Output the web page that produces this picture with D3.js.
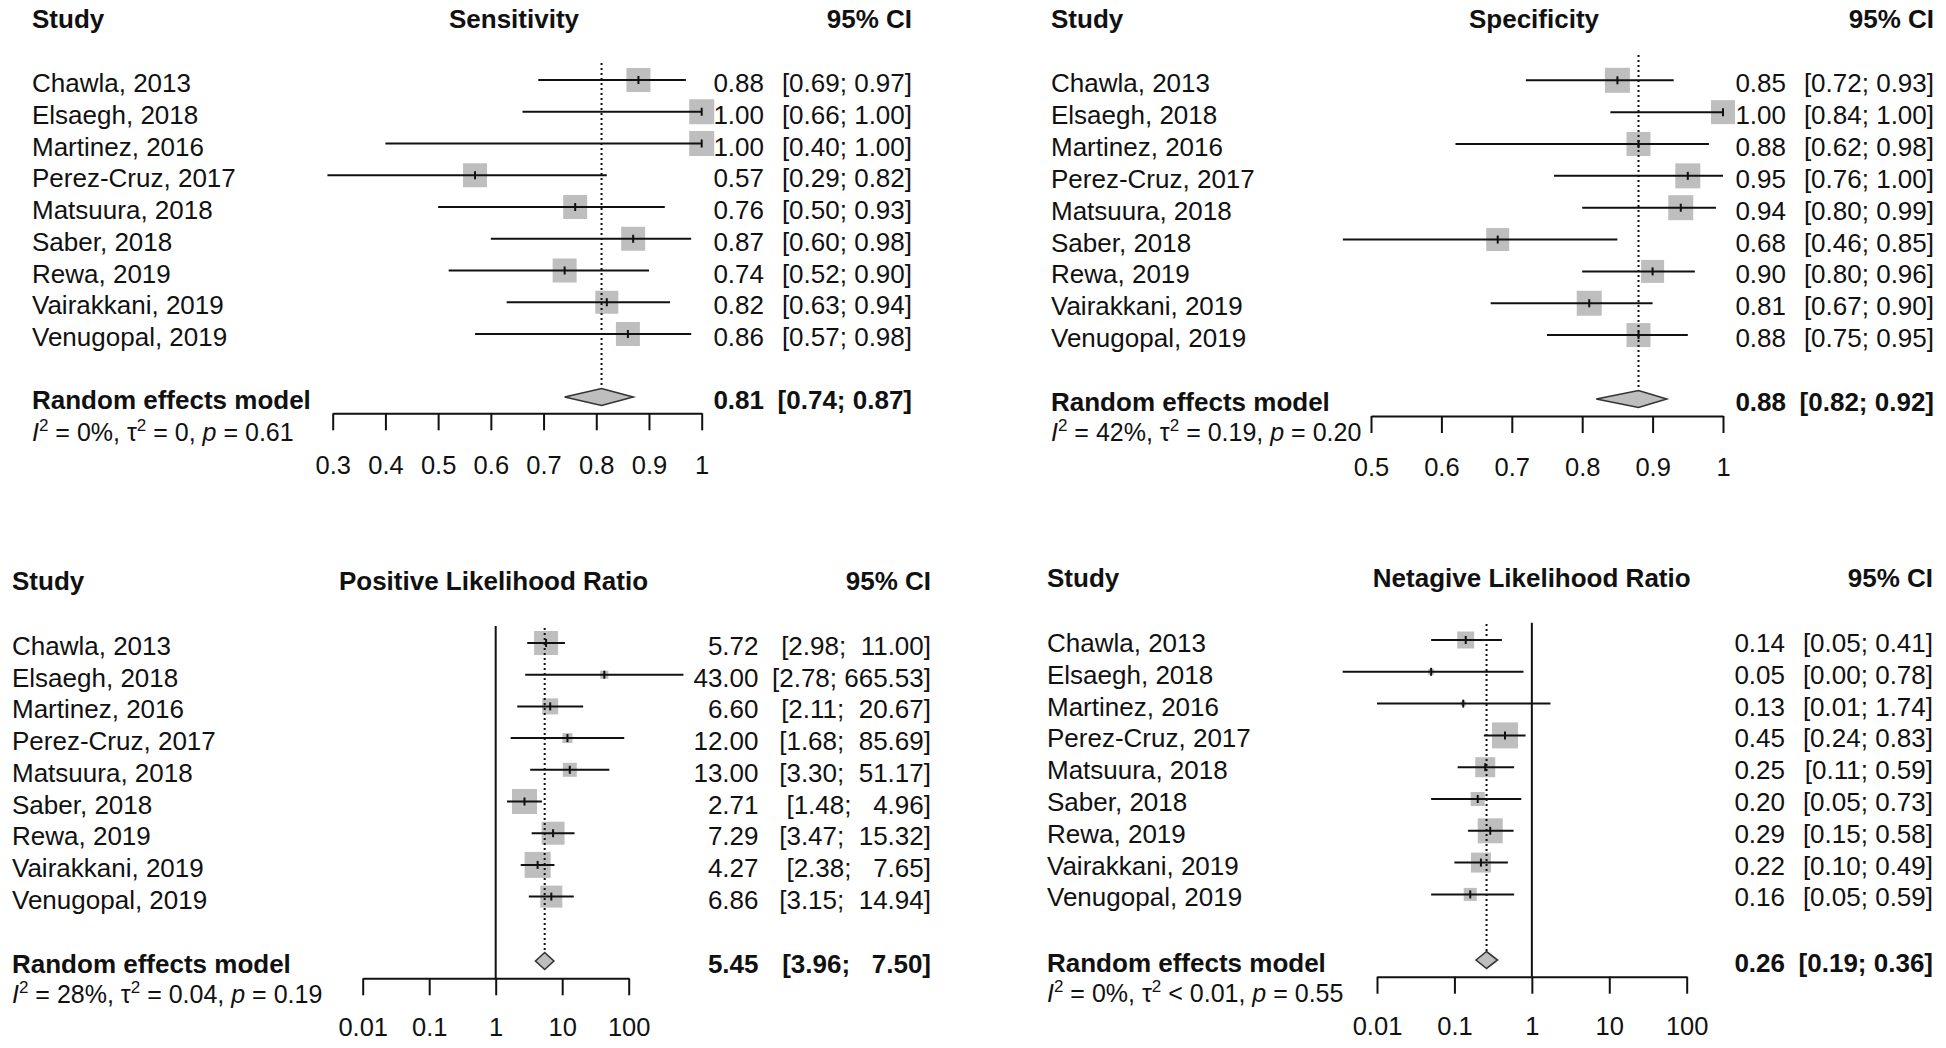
<!DOCTYPE html>
<html><head><meta charset="utf-8">
<script src="https://cdn.jsdelivr.net/npm/d3@7"></script>
<style>
html,body{margin:0;padding:0;background:#fff;}
svg text{font-family:"Liberation Sans",Arial,Helvetica,sans-serif;fill:#111;}
</style></head><body>
<svg id="chart" width="1946" height="1048"></svg>
<script>
// ---------------- data ----------------
const studies = ["Chawla, 2013","Elsaegh, 2018","Martinez, 2016","Perez-Cruz, 2017","Matsuura, 2018","Saber, 2018","Rewa, 2019","Vairakkani, 2019","Venugopal, 2019"];

const sensEst  = [0.88,1.00,1.00,0.57,0.76,0.87,0.74,0.82,0.86];
const sensLow  = [0.69,0.66,0.40,0.29,0.50,0.60,0.52,0.63,0.57];
const sensHigh = [0.97,1.00,1.00,0.82,0.93,0.98,0.90,0.94,0.98];
const sensWeight = [24,25,25,24,24,24,24,23,24];
const sensPooled = [0.81,0.74,0.87];
const sensTicks = [0.3,0.4,0.5,0.6,0.7,0.8,0.9,1];
const sensTickLabels = ["0.3","0.4","0.5","0.6","0.7","0.8","0.9","1"];

const specEst  = [0.85,1.00,0.88,0.95,0.94,0.68,0.90,0.81,0.88];
const specLow  = [0.72,0.84,0.62,0.76,0.80,0.46,0.80,0.67,0.75];
const specHigh = [0.93,1.00,0.98,1.00,0.99,0.85,0.96,0.90,0.95];
const specWeight = [25,24,24,25,25,23,23,25,24];
const specPooled = [0.88,0.82,0.92];
const specTicks = [0.5,0.6,0.7,0.8,0.9,1];
const specTickLabels = ["0.5","0.6","0.7","0.8","0.9","1"];

const plrEst  = [5.72,43.00,6.60,12.00,13.00,2.71,7.29,4.27,6.86];
const plrLow  = [2.98,2.78,2.11,1.68,3.30,1.48,3.47,2.38,3.15];
const plrHigh = [11.00,665.53,20.67,85.69,51.17,4.96,15.32,7.65,14.94];
const plrWeight = [24,8,16,10,14,25,23,26,22];
const plrPooled = [5.45,3.96,7.50];

const nlrEst  = [0.14,0.05,0.13,0.45,0.25,0.20,0.29,0.22,0.16];
const nlrLow  = [0.05,0.0036,0.01,0.24,0.11,0.05,0.15,0.10,0.05];
const nlrHigh = [0.41,0.78,1.74,0.83,0.59,0.73,0.58,0.49,0.59];
const nlrWeight = [17,6,5,26,20,14,25,20,13];
const nlrPooled = [0.26,0.19,0.36];

const lrTicks = [0.01,0.1,1,10,100];
const lrTickLabels = ["0.01","0.1","1","10","100"];

const titles = ["Sensitivity","Specificity","Positive Likelihood Ratio","Netagive Likelihood Ratio"];
const hetI2  = ["0%","42%","28%","0%"];
const hetTau = ["= 0","= 0.19","= 0.04","< 0.01"];
const hetP   = ["0.61","0.20","0.19","0.55"];

// ---------------- layout ----------------
const FS = 26, FS_HET = 25, FS_TICK = 25.5, TXT_OFF = 12;
const panels = [
  {est:sensEst, low:sensLow, high:sensHigh, w:sensWeight, pooled:sensPooled, ticks:sensTicks, tl:sensTickLabels, log:false,
   domain:[0.3,1], range:[332.7,701.7], row0:80, step:31.75, studyX:32, titleX:514, headerY:27.5, ciRight:912, estRight:764,
   diamondY:397, hetY:441, axisY:413.3, labelC:465, dotTop:63, ref:false},
  {est:specEst, low:specLow, high:specHigh, w:specWeight, pooled:specPooled, ticks:specTicks, tl:specTickLabels, log:false,
   domain:[0.5,1], range:[1371,1723], row0:80.3, step:31.85, studyX:1051, titleX:1534, headerY:28.3, ciRight:1934, estRight:1786,
   diamondY:399, hetY:440.5, axisY:416, labelC:466.7, dotTop:55, ref:false},
  {est:plrEst, low:plrLow, high:plrHigh, w:plrWeight, pooled:plrPooled, ticks:lrTicks, tl:lrTickLabels, log:true,
   domain:[0.01,100], range:[362.7,628.7], row0:643, step:31.7, studyX:12, titleX:493.5, headerY:590, ciRight:931, estRight:758.5,
   diamondY:961, hetY:1003, axisY:978.3, labelC:1026.7, dotTop:628, ref:true, refTop:626},
  {est:nlrEst, low:nlrLow, high:nlrHigh, w:nlrWeight, pooled:nlrPooled, ticks:lrTicks, tl:lrTickLabels, log:true,
   domain:[0.01,100], range:[1377,1686.7], row0:640, step:31.8, studyX:1047, titleX:1531.7, headerY:586.7, ciRight:1933, estRight:1785,
   diamondY:960, hetY:1001.7, axisY:976.7, labelC:1026.7, dotTop:624, ref:true, refTop:622.7}
];

const svg = d3.select("#chart");
const INK = "#111";

function f2(v){ return v.toFixed(2); }

panels.forEach((p, pi) => {
  const g = svg.append("g");
  const x = (p.log ? d3.scaleLog() : d3.scaleLinear()).domain(p.domain).range(p.range);

  // formatting widths (padded like R's format())
  const allEst = p.est.concat([p.pooled[0]]).map(f2);
  const allLow = p.low.concat([p.pooled[1]]).map(f2);
  const allHigh = p.high.concat([p.pooled[2]]).map(f2);
  const wL = d3.max(allLow, s=>s.length), wH = d3.max(allHigh, s=>s.length);
  const ciStr = i => "[" + allLow[i].padStart(wL," ") + "; " + allHigh[i].padStart(wH," ") + "]";

  const rows = studies.map((s,i)=>({s, i, est:p.est[i], low:p.low[i], high:p.high[i], w:p.w[i], y:p.row0 + i*p.step}));

  // headers
  g.append("text").attr("x",p.studyX).attr("y",p.headerY).attr("font-size",FS).attr("font-weight","bold").text("Study");
  g.append("text").attr("x",p.titleX).attr("y",p.headerY).attr("font-size",FS).attr("font-weight","bold").attr("text-anchor","middle").text(titles[pi]);
  g.append("text").attr("x",p.ciRight).attr("y",p.headerY).attr("font-size",FS).attr("font-weight","bold").attr("text-anchor","end").text("95% CI");

  // squares
  g.selectAll("rect.sq").data(rows).join("rect").attr("class","sq")
    .attr("x",d=>x(d.est)-d.w/2).attr("y",d=>d.y-d.w/2).attr("width",d=>d.w).attr("height",d=>d.w)
    .attr("fill","#bebebe");

  // reference line (no effect)
  if (p.ref) {
    g.append("line").attr("x1",x(1)).attr("x2",x(1)).attr("y1",p.refTop).attr("y2",p.axisY)
      .attr("stroke",INK).attr("stroke-width",2);
  }
  // pooled dotted line
  g.append("line").attr("x1",x(p.pooled[0])).attr("x2",x(p.pooled[0])).attr("y1",p.dotTop).attr("y2",p.diamondY)
    .attr("stroke",INK).attr("stroke-width",2).attr("stroke-dasharray","2,3");

  // CI lines
  g.selectAll("line.ci").data(rows).join("line").attr("class","ci")
    .attr("x1",d=>x(d.low)).attr("x2",d=>x(d.high)).attr("y1",d=>d.y).attr("y2",d=>d.y)
    .attr("stroke",INK).attr("stroke-width",2);
  // estimate marks
  g.selectAll("line.pt").data(rows).join("line").attr("class","pt")
    .attr("x1",d=>x(d.est)).attr("x2",d=>x(d.est)).attr("y1",d=>d.y-4).attr("y2",d=>d.y+4)
    .attr("stroke",INK).attr("stroke-width",2);

  // study labels
  g.selectAll("text.lab").data(rows).join("text").attr("class","lab")
    .attr("x",p.studyX).attr("y",d=>d.y+TXT_OFF).attr("font-size",FS).text(d=>d.s);
  g.selectAll("text.est").data(rows).join("text").attr("class","est")
    .attr("x",p.estRight).attr("y",d=>d.y+TXT_OFF).attr("font-size",FS).attr("text-anchor","end")
    .attr("xml:space","preserve").style("white-space","pre").text(d=>allEst[d.i]);
  g.selectAll("text.ci").data(rows).join("text").attr("class","ci")
    .attr("x",p.ciRight).attr("y",d=>d.y+TXT_OFF).attr("font-size",FS).attr("text-anchor","end")
    .attr("xml:space","preserve").style("white-space","pre").text(d=>ciStr(d.i));

  // pooled diamond
  const dy = p.diamondY, h = 8.5;
  g.append("polygon")
    .attr("points",[[x(p.pooled[1]),dy],[x(p.pooled[0]),dy-h],[x(p.pooled[2]),dy],[x(p.pooled[0]),dy+h]].map(q=>q.join(",")).join(" "))
    .attr("fill","#bebebe").attr("stroke","#333").attr("stroke-width",1.6);

  const n = studies.length;
  g.append("text").attr("x",p.studyX).attr("y",dy+12).attr("font-size",FS).attr("font-weight","bold").text("Random effects model");
  g.append("text").attr("x",p.estRight).attr("y",dy+12).attr("font-size",FS).attr("font-weight","bold").attr("text-anchor","end")
    .attr("xml:space","preserve").style("white-space","pre").text(allEst[n]);
  g.append("text").attr("x",p.ciRight).attr("y",dy+12).attr("font-size",FS).attr("font-weight","bold").attr("text-anchor","end")
    .attr("xml:space","preserve").style("white-space","pre").text(ciStr(n));

  // heterogeneity
  const het = g.append("text").attr("x",p.studyX).attr("y",p.hetY).attr("font-size",FS_HET)
    .attr("xml:space","preserve").style("white-space","pre");
  het.append("tspan").attr("font-style","italic").text("I");
  het.append("tspan").attr("font-size",17).attr("dy",-10).text("2");
  het.append("tspan").attr("dy",10).text(" = " + hetI2[pi] + ", \u03C4");
  het.append("tspan").attr("font-size",17).attr("dy",-10).text("2");
  het.append("tspan").attr("dy",10).text(" " + hetTau[pi] + ", ");
  het.append("tspan").attr("font-style","italic").text("p");
  het.append("tspan").text(" = " + hetP[pi]);

  // axis
  const tickSize = 17;
  const pad = p.labelC - p.axisY - 9.3 - tickSize;
  const ax = g.append("g").attr("transform",`translate(0,${p.axisY})`)
    .call(d3.axisBottom(x).tickValues(p.ticks).tickFormat((d,i)=>p.tl[i]).tickSize(tickSize).tickSizeOuter(0).tickPadding(pad));
  ax.attr("font-family",null).attr("font-size",null);
  ax.select(".domain").attr("stroke",INK).attr("stroke-width",2);
  ax.selectAll(".tick line").attr("stroke",INK).attr("stroke-width",2);
  ax.selectAll(".tick text").attr("font-size",FS_TICK).attr("fill",INK);
});
</script>
</body></html>
